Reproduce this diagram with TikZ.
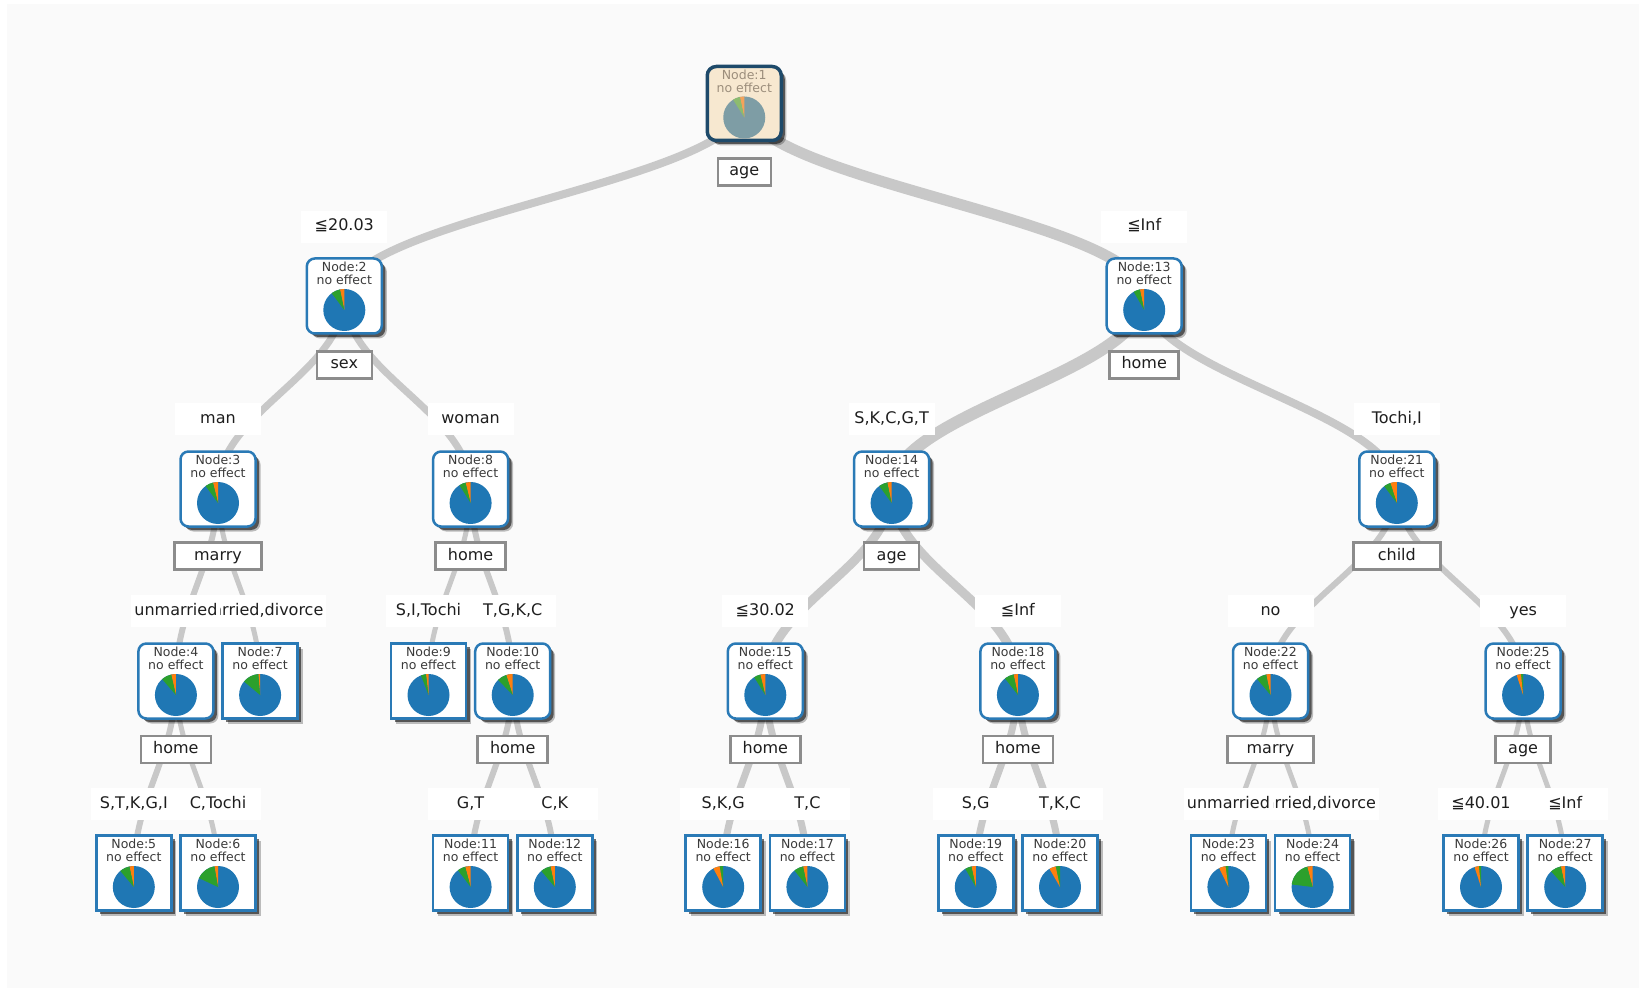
\documentclass[tikz,border=0pt]{standalone}
\usepackage{fontspec}
\setmainfont{DejaVu Sans}
\usetikzlibrary{shadows,calc}
\definecolor{cblue}{HTML}{1F77B4}
\definecolor{cgreen}{HTML}{2CA02C}
\definecolor{corange}{HTML}{FF7F0E}
\definecolor{rblue}{HTML}{7E9DA5}
\definecolor{rgreen}{HTML}{8DBB6E}
\definecolor{rorange}{HTML}{F5A35A}
\definecolor{nborder}{HTML}{2A7AB6}
\definecolor{rborder}{HTML}{1E4A6A}
\definecolor{rfill}{HTML}{F7E8D0}
\definecolor{edgec}{HTML}{C8C8C8}
\definecolor{splitc}{HTML}{8C8C8C}
\definecolor{bgc}{HTML}{FAFAFA}
\definecolor{ntextc}{HTML}{3A3A3A}
\definecolor{rtextc}{HTML}{9C8E7C}
\definecolor{labc}{HTML}{1E1E1E}

% two slices, the first one next to the top (counterclockwise)
\newcommand{\twoslices}[4]{% angle1, color1, angle2, color2
  \fill[#2] (0,0) -- (-90:21) arc[start angle=-90, end angle={-90-#1}, radius=21] -- cycle;
  \fill[#4] (0,0) -- ({-90-#1}:21) arc[start angle={-90-#1}, end angle={-90-#1-#3}, radius=21] -- cycle;
}
\newcommand{\pienode}[6]{% name, number, orange, green, colour prefix, text colour
  \begin{scope}[shift={($(#1.center)+(0,14)$)}]
    \fill[#5blue] (0,0) circle (21);
    \ifdim #3pt>#4pt
      \twoslices{#4}{#5green}{#3}{#5orange}
    \else
      \twoslices{#3}{#5orange}{#4}{#5green}
    \fi
  \end{scope}
  \node[ntext, text=#6] at ($(#1.center)+(0,-22.5)$) {Node:#2\\no effect};
}

\tikzset{
  box/.style={draw=nborder, line width=2.5pt, fill=white, minimum width=75pt, minimum height=75pt, inner sep=0pt,
     drop shadow={shadow xshift=5pt, shadow yshift=-5pt, opacity=0.25, fill=black},
     drop shadow={shadow xshift=3.5pt, shadow yshift=-3.5pt, opacity=0.55, fill=black}},
  innerbox/.style={box, rounded corners=8pt},
  leafbox/.style={box},
  rootbox/.style={box, rounded corners=9pt, draw=rborder, fill=rfill, line width=3.5pt, minimum width=74pt, minimum height=74pt},
  ntext/.style={font=\fontsize{12.5}{13}\selectfont, align=center, inner sep=0pt},
  splitbox/.style={draw=splitc, line width=2.5pt, fill=white, minimum height=27pt, inner sep=0pt,
     text height=11.5pt, text depth=3.5pt, font=\fontsize{16}{19}\selectfont, text=labc},
  cond/.style={fill=white, minimum width=86pt, minimum height=32pt, inner sep=3pt,
     text height=11.5pt, text depth=3.5pt, font=\fontsize{16}{19}\selectfont, text=labc},
  conn/.style={draw=edgec, line width=#1},
}

\begin{document}
\begin{tikzpicture}[x=1pt, y=-1pt]
\useasboundingbox (0,0) rectangle (1639,992);
\fill[bgc] (7,4) rectangle (1639,988);

% node positions
\coordinate (p1) at (744.25,103.5);
\coordinate (p2) at (344.3,296);
\coordinate (p13) at (1144.2,296);
\coordinate (p3) at (218.0,489);
\coordinate (p8) at (470.6,489);
\coordinate (p14) at (891.6,489);
\coordinate (p21) at (1396.8,489);
\coordinate (p4) at (175.9,681);
\coordinate (p7) at (260.1,681);
\coordinate (p9) at (428.5,681);
\coordinate (p10) at (512.7,681);
\coordinate (p15) at (765.3,681);
\coordinate (p18) at (1017.9,681);
\coordinate (p22) at (1270.5,681);
\coordinate (p25) at (1523.1,681);
\coordinate (p5) at (133.8,873);
\coordinate (p6) at (218.0,873);
\coordinate (p11) at (470.6,873);
\coordinate (p12) at (554.8,873);
\coordinate (p16) at (723.2,873);
\coordinate (p17) at (807.4,873);
\coordinate (p19) at (975.8,873);
\coordinate (p20) at (1060.0,873);
\coordinate (p23) at (1228.4,873);
\coordinate (p24) at (1312.6,873);
\coordinate (p26) at (1481.0,873);
\coordinate (p27) at (1565.2,873);

% edges
\newcommand{\tedge}[3]{\draw[conn=#3pt] (p#1) .. controls +(0,77) and +(0,-77) .. (p#2);}
\tedge{1}{2}{8}
\tedge{1}{13}{11}
\tedge{2}{3}{7}
\tedge{2}{8}{7}
\tedge{3}{4}{6}
\tedge{3}{7}{5}
\tedge{4}{5}{6}
\tedge{4}{6}{5}
\tedge{8}{9}{5}
\tedge{8}{10}{6}
\tedge{10}{11}{6}
\tedge{10}{12}{6}
\tedge{13}{14}{12}
\tedge{13}{21}{8}
\tedge{14}{15}{9}
\tedge{14}{18}{9}
\tedge{15}{16}{7}
\tedge{15}{17}{7}
\tedge{18}{19}{7}
\tedge{18}{20}{7}
\tedge{21}{22}{6}
\tedge{21}{25}{6}
\tedge{22}{23}{5}
\tedge{22}{24}{5}
\tedge{25}{26}{5}
\tedge{25}{27}{5}

% condition labels (right child first)
\node[cond] (c13) at ($(p13)+(0,-69)$) {≦Inf};
\node[cond] (c2) at ($(p2)+(0,-69)$) {≦20.03};
\node[cond] (c8) at ($(p8)+(0,-70)$) {woman};
\node[cond] (c3) at ($(p3)+(0,-70)$) {man};
\node[cond] (c21) at ($(p21)+(0,-70)$) {Tochi,I};
\node[cond] (c14) at ($(p14)+(0,-70)$) {S,K,C,G,T};
\node[cond] (c7) at ($(p7)+(0,-70)$) {married,divorce};
\node[cond] (c4) at ($(p4)+(0,-70)$) {unmarried};
\node[cond] (c10) at ($(p10)+(0,-70)$) {T,G,K,C};
\node[cond] (c9) at ($(p9)+(0,-70)$) {S,I,Tochi};
\node[cond] (c18) at ($(p18)+(0,-70)$) {≦Inf};
\node[cond] (c15) at ($(p15)+(0,-70)$) {≦30.02};
\node[cond] (c25) at ($(p25)+(0,-70)$) {yes};
\node[cond] (c22) at ($(p22)+(0,-70)$) {no};
\node[cond] (c6) at ($(p6)+(0,-69)$) {C,Tochi};
\node[cond] (c5) at ($(p5)+(0,-69)$) {S,T,K,G,I};
\node[cond] (c12) at ($(p12)+(0,-69)$) {C,K};
\node[cond] (c11) at ($(p11)+(0,-69)$) {G,T};
\node[cond] (c17) at ($(p17)+(0,-69)$) {T,C};
\node[cond] (c16) at ($(p16)+(0,-69)$) {S,K,G};
\node[cond] (c20) at ($(p20)+(0,-69)$) {T,K,C};
\node[cond] (c19) at ($(p19)+(0,-69)$) {S,G};
\node[cond] (c24) at ($(p24)+(0,-69)$) {married,divorce};
\node[cond] (c23) at ($(p23)+(0,-69)$) {unmarried};
\node[cond] (c27) at ($(p27)+(0,-69)$) {≦Inf};
\node[cond] (c26) at ($(p26)+(0,-69)$) {≦40.01};

% split boxes
\node[splitbox, minimum width=53pt] (s1) at ($(p1)+(0,68.5)$) {age};
\node[splitbox, minimum width=55pt] (s2) at ($(p2)+(0,69)$) {sex};
\node[splitbox, minimum width=69pt] (s13) at ($(p13)+(0,69)$) {home};
\node[splitbox, minimum width=87pt] (s3) at ($(p3)+(0,67)$) {marry};
\node[splitbox, minimum width=70pt] (s8) at ($(p8)+(0,67)$) {home};
\node[splitbox, minimum width=55pt] (s14) at ($(p14)+(0,67)$) {age};
\node[splitbox, minimum width=87pt] (s21) at ($(p21)+(0,67)$) {child};
\node[splitbox, minimum width=70pt] (s4) at ($(p4)+(0,68.5)$) {home};
\node[splitbox, minimum width=70pt] (s10) at ($(p10)+(0,68.5)$) {home};
\node[splitbox, minimum width=70pt] (s15) at ($(p15)+(0,68.5)$) {home};
\node[splitbox, minimum width=70pt] (s18) at ($(p18)+(0,68.5)$) {home};
\node[splitbox, minimum width=86pt] (s22) at ($(p22)+(0,68.5)$) {marry};
\node[splitbox, minimum width=55pt] (s25) at ($(p25)+(0,68.5)$) {age};

% tree nodes
\node[rootbox] (n1) at (p1) {};
\pienode{n1}{1}{12}{20}{r}{rtextc}
\foreach \i/\o/\g in {2/12/25, 13/12/18, 3/14/22, 8/14/18, 14/12/24, 21/18/19, 4/13/28, 10/18/26, 15/14/18, 18/12/26, 22/12/28, 25/12/6}{
  \node[innerbox] (n\i) at (p\i) {};
  \pienode{n\i}{\i}{\o}{\g}{c}{ntextc}
}
\foreach \i/\o/\g in {5/12/28, 6/10/55, 7/5/45, 9/7/14, 11/15/22, 12/12/28, 16/18/10, 17/12/26, 19/12/18, 20/18/12, 23/18/8, 24/15/68, 26/12/6, 27/12/30}{
  \node[leafbox] (n\i) at (p\i) {};
  \pienode{n\i}{\i}{\o}{\g}{c}{ntextc}
}
\end{tikzpicture}
\end{document}
